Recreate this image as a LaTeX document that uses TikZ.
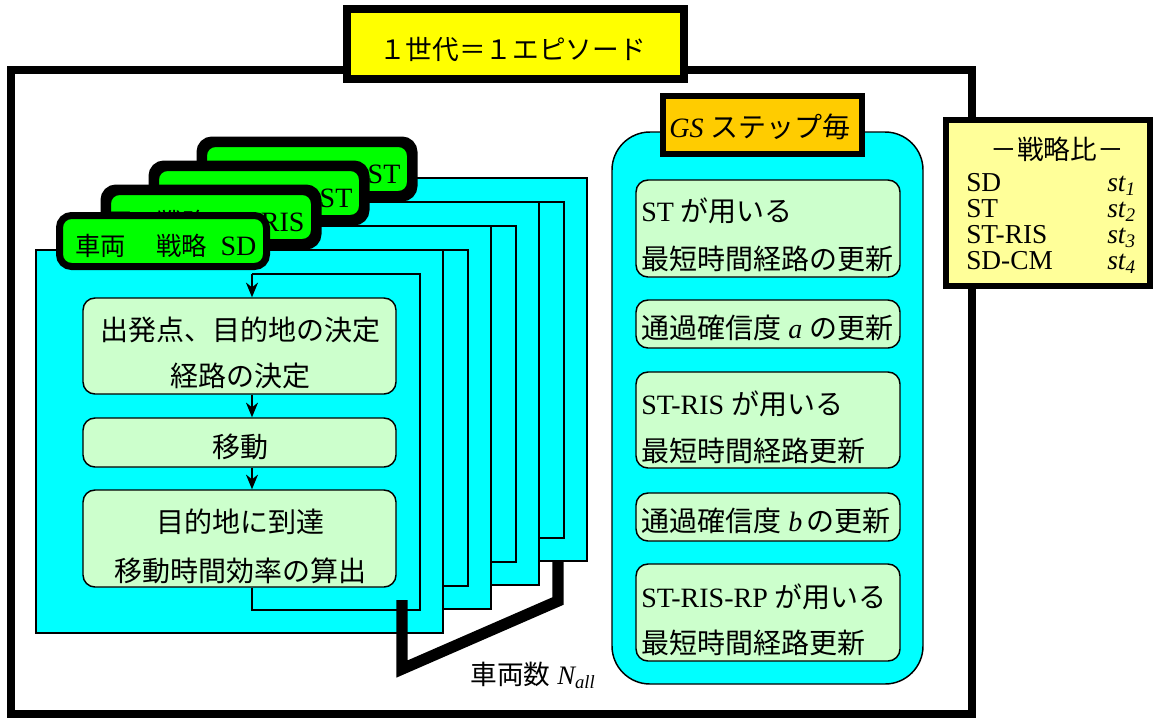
\documentclass[tikz,border=0pt]{standalone}
\usepackage{fontspec}
\setmainfont{Liberation Serif}
\newfontfamily\jp{Noto Sans CJK JP}
\usetikzlibrary{arrows.meta}
\definecolor{cyanfill}{HTML}{00FFFF}
\definecolor{flowgreen}{HTML}{CCFFCC}
\definecolor{labelgreen}{HTML}{00FF00}
\definecolor{titleyellow}{HTML}{FFFF00}
\definecolor{gsorange}{HTML}{FFCC00}
\definecolor{stratyellow}{HTML}{FFFF99}
\newcommand{\latinbig}[1]{{\fontsize{21}{22}\selectfont #1}}
\begin{document}
\begin{tikzpicture}[x=0.75pt,y=-0.75pt,
  thinline/.style={line width=1.1pt},
  panel/.style={thinline, draw=black, fill=cyanfill},
  loopline/.style={thinline, draw=black},
  flowarrow/.style={thinline, -{Stealth[length=11pt,width=9pt,inset=3.5pt]}},
  plabel/.style={rectangle, rounded corners=9pt, draw=black, fill=labelgreen, line width=5.25pt,
    minimum width=155.25pt, minimum height=38.25pt, inner sep=0pt},
  ltxt/.style={font=\fontsize{19}{22}\selectfont, inner sep=0pt},
  flowbox/.style={rectangle, rounded corners=9pt, draw=black, thinline, fill=flowgreen, inner sep=0pt},
  txt/.style={font=\fontsize{21}{25}\selectfont, inner sep=0pt},
  ttxt/.style={font=\fontsize{20}{24}\selectfont, inner sep=0pt},
  stxt/.style={font=\fontsize{20.5}{24}\selectfont, inner sep=0pt},
  bigbox/.style={rectangle, draw=black, inner sep=0pt}
]
\useasboundingbox (0,0) rectangle (1153,718);

% outer frame
\draw[line width=6pt] (11,70) rectangle (972,714);

% title
\node[bigbox, fill=titleyellow, line width=6pt, minimum width=252.75pt, minimum height=52.5pt] (title) at (515.5,44) {};
\node[ttxt, anchor=base] (titletxt) at (512.5,59.5) {\jp １世代＝１エピソード};

% ---------- panel 4 (back) ----------
\draw[panel] (180,178) rectangle (587,561);
\draw[loopline] (396,202) rectangle (564,538);
\node[plabel] (L4) at (307,169) {};
\begin{scope}
  \clip[rounded corners=9pt] (L4.south west) rectangle (L4.north east);
  \node[ltxt, anchor=base east] (L4t) at ([xshift=-10pt,yshift=-10.5pt]L4.east) {{\jp 車両　戦略}\hspace{10pt}\latinbig{ST}};
\end{scope}
\draw[line width=5.25pt, rounded corners=9pt] (L4.south west) rectangle (L4.north east);

% ---------- panel 3 ----------
\draw[panel] (132,202) rectangle (539,585);
\draw[loopline] (348,226) rectangle (516,562);
\node[plabel] (L3) at (259,193) {};
\begin{scope}
  \clip[rounded corners=9pt] (L3.south west) rectangle (L3.north east);
  \node[ltxt, anchor=base east] (L3t) at ([xshift=-10pt,yshift=-10.5pt]L3.east) {{\jp 車両　戦略}\hspace{10pt}\latinbig{ST}};
\end{scope}
\draw[line width=5.25pt, rounded corners=9pt] (L3.south west) rectangle (L3.north east);

% ---------- panel 2 ----------
\draw[panel] (84,226) rectangle (491,609);
\draw[loopline] (300,250) rectangle (468,586);
\node[plabel] (L2) at (211,217) {};
\begin{scope}
  \clip[rounded corners=9pt] (L2.south west) rectangle (L2.north east);
  \node[ltxt, anchor=base east] (L2t) at ([xshift=-10pt,yshift=-10.5pt]L2.east) {{\jp 車両　戦略}\hspace{10pt}\latinbig{ST-RIS}};
\end{scope}
\draw[line width=5.25pt, rounded corners=9pt] (L2.south west) rectangle (L2.north east);

% ---------- panel 1 (front) ----------
\draw[panel] (36,250) rectangle (443,633);
\node[flowbox, minimum width=234.75pt, minimum height=72pt] (A) at (239.5,346) {};
\node[flowbox, minimum width=234.75pt, minimum height=36.75pt] (B) at (239.5,442.5) {};
\node[flowbox, minimum width=234.75pt, minimum height=72.75pt] (C) at (239.5,538.5) {};
\node[txt, anchor=base] (A1) at (240,340) {\jp 出発点、目的地の決定};
\node[txt, anchor=base] (A2) at (240,386) {\jp 経路の決定};
\node[txt, anchor=base] (B1) at (240,457) {\jp 移動};
\node[txt, anchor=base] (C1) at (240,532) {\jp 目的地に到達};
\node[txt, anchor=base] (C2) at (240,581) {\jp 移動時間効率の算出};
\coordinate (lt) at (252,274);
\coordinate (rb) at (420,610);
\draw[loopline] (C.south -| lt) -- (lt |- rb) -- (rb) -- (rb |- lt) -- (lt);
\draw[flowarrow] (lt) -- (A.north -| lt);
\draw[flowarrow] (A.south -| lt) -- (B.north -| lt);
\draw[flowarrow] (B.south -| lt) -- (C.north -| lt);
\node[plabel] (L1) at (163,241) {};
\node[ltxt, anchor=base east] (L1t) at ([xshift=-10pt,yshift=-10.5pt]L1.east) {{\jp 車両　\hspace{4pt}戦略}\hspace{10pt}\latinbig{SD}};

% ---------- GS panel ----------
\draw[thinline, fill=cyanfill, rounded corners=28.5pt] (612,132) rectangle (923,684);
\node[bigbox, fill=gsorange, line width=4.5pt, minimum width=149.25pt, minimum height=43.5pt] (GS) at (762.5,125) {};
\node[txt, anchor=base] (GSt) at (760,137.5) {\textit{GS} {\jp ステップ毎}};

\node[flowbox, minimum width=198pt, minimum height=72.75pt] (R1) at (768,228.5) {};
\node[flowbox, minimum width=198pt, minimum height=36pt] (R2) at (768,324) {};
\node[flowbox, minimum width=198pt, minimum height=72pt] (R3) at (768,420) {};
\node[flowbox, minimum width=198pt, minimum height=36pt] (R4) at (768,517) {};
\node[flowbox, minimum width=198pt, minimum height=72.75pt] (R5) at (768,612.5) {};
\node[txt, anchor=base west] (R1a) at (641,221) {ST {\jp が用いる}};
\node[txt, anchor=base west] (R1b) at (641,269) {\jp 最短時間経路の更新};
\node[txt, anchor=base west] (R2a) at (641,338.5) {{\jp 通過確信度} \textit{a} {\jp の更新}};
\node[txt, anchor=base west] (R3a) at (641,414) {ST-RIS {\jp が用いる}};
\node[txt, anchor=base west] (R3b) at (641,461.5) {\jp 最短時間経路更新};
\node[txt, anchor=base west] (R4a) at (641,531.5) {{\jp 通過確信度} \textit{b}\,{\jp の更新}};
\node[txt, anchor=base west] (R5a) at (641,607.5) {ST-RIS-RP {\jp が用いる}};
\node[txt, anchor=base west] (R5b) at (641,653) {\jp 最短時間経路更新};

% ---------- strategy ratio ----------
\node[bigbox, fill=stratyellow, line width=4.5pt, minimum width=153pt, minimum height=124.5pt] (strat) at (1048,203) {};
\node[ttxt, anchor=base] (stt) at (1057,159.5) {\jp －戦略比－};
\node[stxt, anchor=base west] (s1) at (966,191) {SD};
\node[stxt, anchor=base west] (s2) at (966,217) {ST};
\node[stxt, anchor=base west] (s3) at (966,243) {ST-RIS};
\node[stxt, anchor=base west] (s4) at (966,269) {SD-CM};
\node[stxt, anchor=base west] (t1) at (1107,191) {\textit{st\textsubscript{1}}};
\node[stxt, anchor=base west] (t2) at (1107,217) {\textit{st\textsubscript{2}}};
\node[stxt, anchor=base west] (t3) at (1107,243) {\textit{st\textsubscript{3}}};
\node[stxt, anchor=base west] (t4) at (1107,269) {\textit{st\textsubscript{4}}};

% ---------- vehicle count brace ----------
\coordinate (br1) at (402,600);
\coordinate (br2) at (402,669);
\coordinate (br3) at (558,601);
\coordinate (br4) at (558,561);
\draw[line width=8.5pt] (br1) -- (br2) -- (br3) -- (br4);
\node[ttxt, anchor=base] (nall) at (533,684) {{\jp 車両数} \textit{N\textsubscript{all}}};
\end{tikzpicture}
\end{document}
